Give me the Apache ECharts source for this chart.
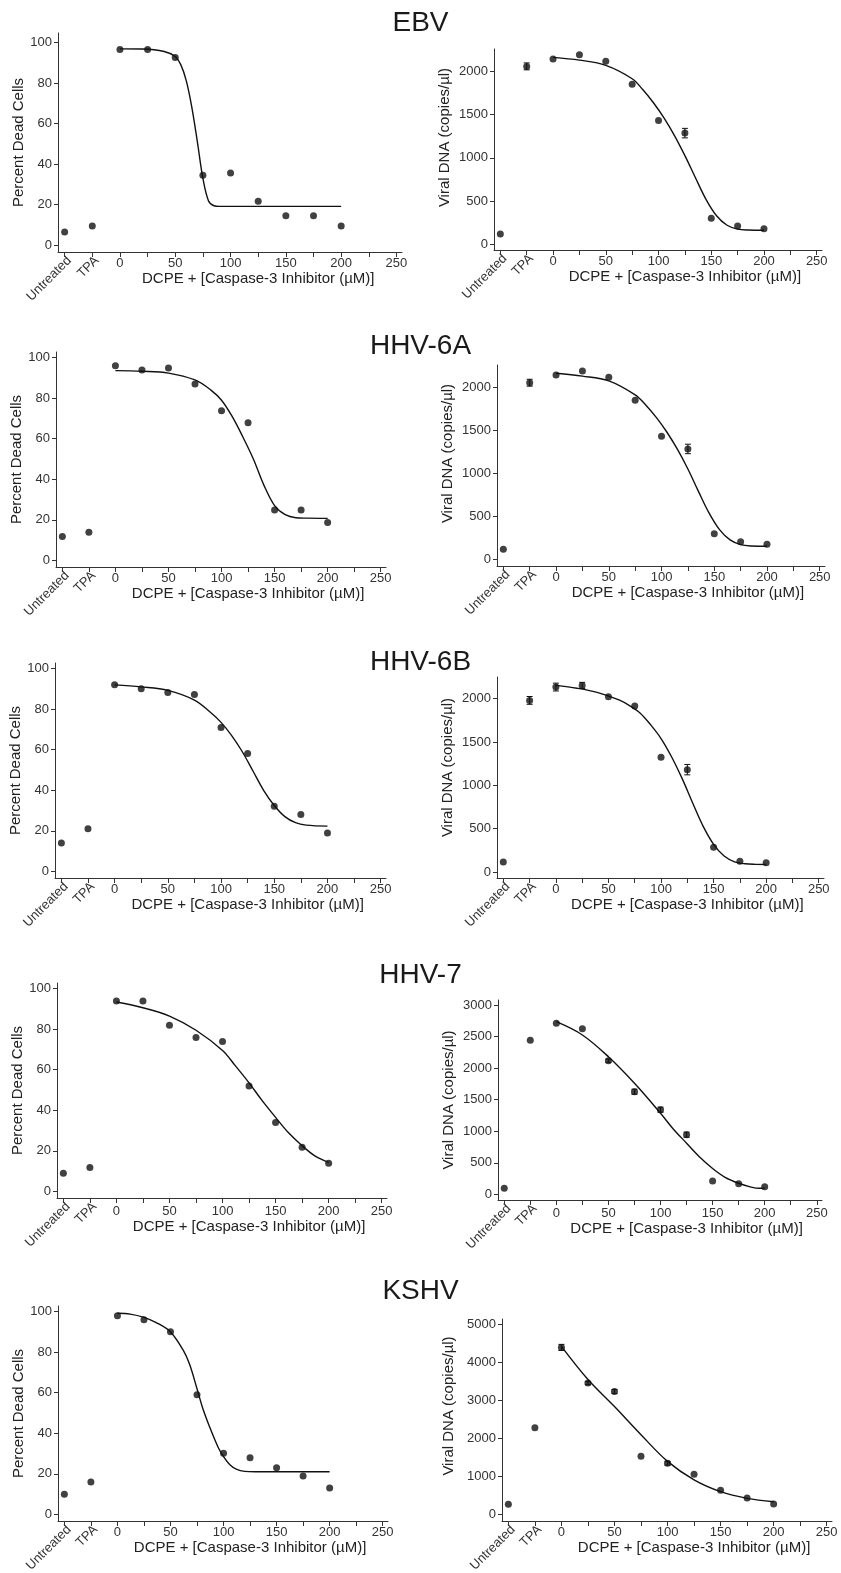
<!DOCTYPE html>
<html>
<head>
    <meta charset="utf-8">
    <title>DCPE + Caspase-3 Inhibitor</title>
    <script src="https://cdn.jsdelivr.net/npm/echarts@6/dist/echarts.min.js"></script>
    <style>
        *{
            margin: 0;
            padding: 0;
        }
        html,body{
            width: 100%;
            height: 100%;
            overflow: hidden;
            background: #fff;
        }
        #main{
            width: 841px;
            height: 1573px;
        }
    </style>
</head>
<body>
<div id="main"></div>
<script>
    // control groups sit left of the dose scale, at their own spots on the x axis
    const controls = ['Untreated', 'TPA'];
    const controlPos = [-50, -25];
    const doses = [0, 25, 50, 75, 100, 125, 150, 175, 200];
    const doseTicks = [-50, -25, 0, 25, 50, 75, 100, 125, 150, 175, 200, 225, 250];
    const doseLabels = [0, 50, 100, 150, 200, 250];
    const viruses = ['EBV', 'HHV-6A', 'HHV-6B', 'HHV-7', 'KSHV'];

    // Percent Dead Cells: Untreated, TPA, then one value per dose
    const ebvDead   = [6.6, 9.5, 96.5, 96.5, 92.5, 34.5, 35.6, 21.7, 14.6, 14.6, 9.5];
    const hhv6aDead = [11.8, 13.8, 96, 93.9, 94.9, 87, 73.8, 67.9, 24.8, 24.8, 18.7];
    const hhv6bDead = [14, 21, 92.1, 90.1, 88.2, 87.2, 71, 58.1, 32.1, 28, 18.9];
    const hhv7Dead  = [8.9, 11.8, 93.9, 93.9, 81.9, 75.9, 73.9, 52, 34, 21.8, 13.9];
    const kshvDead  = [9.9, 15.9, 98, 96, 90.1, 59, 30.1, 27.9, 23, 18.9, 13];

    // Viral DNA (copies/µl), same order; error = +/- copies/µl, 0 means no bar
    const ebvDna      = [119, 2058, 2143, 2193, 2116, 1850, 1432, 1286, 301, 212, 181];
    const ebvDnaErr   = [0, 40, 0, 0, 0, 0, 0, 55, 0, 0, 0];
    const hhv6aDna    = [116, 2053, 2143, 2190, 2116, 1849, 1430, 1283, 298, 205, 174];
    const hhv6aDnaErr = [0, 40, 0, 0, 0, 0, 0, 55, 0, 0, 0];
    const hhv6bDna    = [115, 1980, 2134, 2153, 2023, 1915, 1323, 1181, 285, 123, 108];
    const hhv6bDnaErr = [0, 45, 45, 35, 0, 0, 0, 60, 0, 0, 0];
    const hhv7Dna     = [95, 2440, 2710, 2624, 2117, 1626, 1341, 945, 211, 168, 120];
    const hhv7DnaErr  = [0, 0, 0, 0, 25, 40, 40, 40, 0, 0, 0];
    const kshvDna     = [263, 2271, 4384, 3447, 3226, 1526, 1342, 1053, 632, 429, 271];
    const kshvDnaErr  = [0, 0, 80, 40, 50, 0, 50, 0, 0, 0, 0];

    // fitted dose-response curves as [dose, value]
    const ebvDeadFit = [[0, 96.8], [20, 96.7], [40, 95.5], [50, 93], [55, 89], [60, 81], [65, 68], [70, 51], [75, 33], [80, 22], [85, 19.5], [90, 19.2], [200, 19.2]];
    const ebvDnaFit = [[0, 2162], [25, 2130], [50, 2070], [75, 1915], [85, 1790], [95, 1640], [105, 1465], [115, 1260], [125, 1025], [135, 770], [145, 520], [155, 330], [165, 220], [175, 175], [185, 165], [200, 163]];
    const hhv6aDeadFit = [[0, 93.6], [25, 93.3], [50, 92.4], [75, 89], [90, 84], [100, 79], [110, 71], [120, 61], [130, 50], [140, 37], [150, 27], [160, 22.5], [170, 21], [180, 20.8], [200, 20.7]];
    const hhv6aDnaFit = [[0, 2163], [25, 2130], [50, 2075], [75, 1912], [85, 1795], [95, 1650], [105, 1480], [115, 1280], [125, 1050], [135, 790], [145, 540], [155, 345], [165, 225], [175, 170], [185, 155], [200, 152]];
    const hhv6bDeadFit = [[0, 92], [25, 91], [50, 89.3], [75, 84.5], [90, 78.5], [100, 73.5], [110, 67], [120, 59], [130, 49.5], [140, 40], [150, 32.5], [160, 27], [170, 24], [180, 22.8], [200, 22.3]];
    const hhv6bDnaFit = [[0, 2153], [20, 2120], [40, 2070], [60, 1985], [70, 1920], [80, 1835], [90, 1700], [100, 1540], [110, 1330], [120, 1080], [130, 800], [140, 530], [150, 320], [160, 185], [170, 118], [180, 95], [190, 88], [200, 86]];
    const hhv7DeadFit = [[0, 93.4], [25, 90.6], [50, 86.5], [75, 79.5], [100, 69.5], [112, 62], [125, 53.5], [137, 45], [150, 36.5], [162, 29], [175, 22.5], [187, 17.5], [200, 14.3]];
    const hhv7DnaFit = [[0, 2735], [25, 2525], [50, 2180], [75, 1760], [100, 1285], [112, 1040], [125, 810], [137, 600], [150, 410], [162, 270], [175, 175], [187, 115], [195, 95], [200, 98]];
    const kshvDeadFit = [[0, 99.2], [12, 98.8], [25, 97.2], [37, 94.5], [50, 90], [62, 81], [68, 74], [75, 62], [80, 53], [87, 43], [95, 33], [100, 28.5], [106, 24.5], [112, 22.3], [120, 21.2], [130, 21], [200, 21]];
    const kshvDnaFit = [[0, 4410], [25, 3540], [50, 2830], [75, 2090], [100, 1390], [125, 905], [150, 595], [175, 420], [200, 330]];

    const deadTicks = [0, 20, 40, 60, 80, 100];
    const dnaTicks = [
        [0, 500, 1000, 1500, 2000],
        [0, 500, 1000, 1500, 2000],
        [0, 500, 1000, 1500, 2000],
        [0, 500, 1000, 1500, 2000, 2500, 3000],
        [0, 1000, 2000, 3000, 4000, 5000]
    ];

    const deadRows = [ebvDead, hhv6aDead, hhv6bDead, hhv7Dead, kshvDead];
    const deadFits = [ebvDeadFit, hhv6aDeadFit, hhv6bDeadFit, hhv7DeadFit, kshvDeadFit];
    const dnaRows = [ebvDna, hhv6aDna, hhv6bDna, hhv7Dna, kshvDna];
    const dnaErrs = [ebvDnaErr, hhv6aDnaErr, hhv6bDnaErr, hhv7DnaErr, kshvDnaErr];
    const dnaFits = [ebvDnaFit, hhv6aDnaFit, hhv6bDnaFit, hhv7DnaFit, kshvDnaFit];

    // layout (px) of each panel: [left, top, width, height]
    const leftBoxes = [[58, 33, 344, 219], [56, 352, 330, 215], [55, 663, 331, 215], [57, 983, 330, 215], [58, 1306, 330, 215]];
    const rightBoxes = [[494, 49, 328, 201], [497, 365, 328, 201], [497, 677, 327, 201], [498, 1000, 324, 200], [502, 1319, 330, 202]];
    const leftY = [[-3.3, 104.6], [-3.3, 102.8], [-3.3, 102.8], [-3.3, 102.8], [-3.3, 102.8]];
    const rightY = [[-66, 2259], [-78, 2259], [-69, 2250], [-90, 3079], [-176, 5131]];
    const leftXGap = [13, 18, 17, 21, 9];
    const rightXGap = [11, 19, 17, 18, 7];
    const rightNameShift = [12, 12, 10, 0, 14];
    const titleTops = [4, 327, 643, 956, 1272];

    const X_MIN = -56, X_MAX = 255;
    const ink = '#111';
    const grey = '#333';
    const xName = 'DCPE + [Caspase-3 Inhibitor (\u00b5M)]';
    const xs = controlPos.concat(doses);

    let option = {
        animation: false,
        backgroundColor: '#fff',
        textStyle: {fontFamily: '"Liberation Sans", Arial, sans-serif'},
        title: viruses.map((v, i) => ({
            text: v,
            left: 'center',
            top: titleTops[i],
            textStyle: {fontSize: 28, fontWeight: 'normal', color: '#1a1a1a'}
        })),
        grid: [],
        xAxis: [],
        yAxis: [],
        series: []
    };

    function addPanel(box, yRange, yTicks, yName, yNameGap, yShift, xGap, values, errs, fit, labelMargin) {
        let g = option.grid.length;
        option.grid.push({
            left: box[0], top: box[1], width: box[2], height: box[3],
            outerBoundsMode: 'none'
        });
        // centre the axis title under the dose part (125 µM) instead of the whole axis
        let shift = 2 * (125 - (X_MIN + X_MAX) / 2) * box[2] / (X_MAX - X_MIN);
        option.xAxis.push({
            type: 'value', gridIndex: g, min: X_MIN, max: X_MAX, position: 'bottom',
            name: xName, nameLocation: 'middle', nameGap: xGap,
            nameTextStyle: {fontSize: 15, color: '#222', padding: [0, 0, 0, shift]},
            axisLine: {onZero: false, lineStyle: {color: grey, width: 1}},
            axisTick: {customValues: doseTicks, length: 5, lineStyle: {color: grey}},
            axisLabel: {customValues: doseLabels, fontSize: 13, color: grey, margin: labelMargin},
            splitLine: {show: false}
        });
        option.xAxis.push({
            type: 'value', gridIndex: g, min: X_MIN, max: X_MAX, position: 'bottom',
            axisLine: {show: false, onZero: false},
            axisTick: {show: false},
            splitLine: {show: false},
            axisLabel: {
                customValues: controlPos, rotate: 45, fontSize: 13, color: grey, margin: 2,
                align: 'right', verticalAlign: 'top',
                formatter: v => controls[controlPos.indexOf(v)]
            }
        });
        option.yAxis.push({
            type: 'value', gridIndex: g, min: yRange[0], max: yRange[1],
            name: yName, nameLocation: 'middle', nameGap: yNameGap,
            nameTextStyle: {fontSize: 15, color: '#222', padding: [0, 0, 0, 2 * yShift]},
            axisLine: {show: true, onZero: false, lineStyle: {color: grey, width: 1}},
            axisTick: {show: true, customValues: yTicks, length: 4, lineStyle: {color: grey}},
            axisLabel: {customValues: yTicks, fontSize: 13, color: grey, margin: 6, formatter: v => String(v)},
            splitLine: {show: false}
        });
        option.series.push({
            type: 'line', xAxisIndex: 2 * g, yAxisIndex: g,
            data: fit, smooth: 0.35, showSymbol: false, silent: true,
            lineStyle: {color: ink, width: 1.4}
        });
        if (errs) {
            option.series.push({
                type: 'custom', xAxisIndex: 2 * g, yAxisIndex: g, silent: true,
                data: xs.map((x, i) => errs[i] ? [x, values[i] - errs[i], values[i] + errs[i]] : null)
                    .filter(d => d),
                renderItem: function (params, api) {
                    let lo = api.coord([api.value(0), api.value(1)]);
                    let hi = api.coord([api.value(0), api.value(2)]);
                    let w = 3;
                    let style = {stroke: ink, lineWidth: 1};
                    return {
                        type: 'group',
                        children: [
                            {type: 'line', shape: {x1: lo[0], y1: lo[1], x2: hi[0], y2: hi[1]}, style},
                            {type: 'line', shape: {x1: lo[0] - w, y1: lo[1], x2: lo[0] + w, y2: lo[1]}, style},
                            {type: 'line', shape: {x1: hi[0] - w, y1: hi[1], x2: hi[0] + w, y2: hi[1]}, style}
                        ]
                    };
                }
            });
        }
        option.series.push({
            type: 'scatter', xAxisIndex: 2 * g, yAxisIndex: g,
            data: xs.map((x, i) => [x, values[i]]),
            symbolSize: 7,
            itemStyle: {color: ink}
        });
    }

    viruses.forEach((v, r) => {
        let margin = r === 3 ? 7 : 5;
        addPanel(leftBoxes[r], leftY[r], deadTicks, 'Percent Dead Cells', 26, 0, leftXGap[r],
            deadRows[r], null, deadFits[r], margin);
        addPanel(rightBoxes[r], rightY[r], dnaTicks[r], 'Viral DNA (copies/\u00b5l)', r === 4 ? 46 : 42,
            rightNameShift[r], rightXGap[r], dnaRows[r], dnaErrs[r], dnaFits[r], margin);
    });

    let myCharts = echarts.init(document.getElementById('main'));
    myCharts.setOption(option);
</script>
</body>
</html>
